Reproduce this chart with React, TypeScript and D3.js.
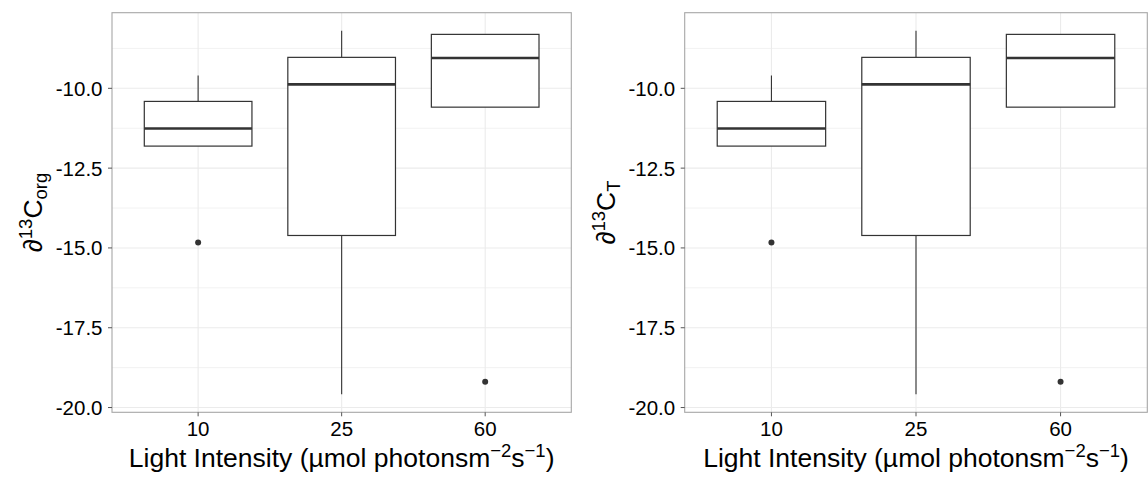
import React from "react";
import * as d3 from "d3";

// ---- data ----
const lightLevels = ["10", "25", "60"];

const orgLower = [-11.81, -19.58, -10.59];
const orgQ1 = [-11.81, -14.61, -10.59];
const orgMedian = [-11.26, -9.875, -9.05];
const orgQ3 = [-10.41, -9.03, -8.31];
const orgUpper = [-9.6, -8.2, -8.31];
const orgOutliers = [[-14.83], [], [-19.19]];

const totLower = [-11.81, -19.58, -10.59];
const totQ1 = [-11.81, -14.61, -10.59];
const totMedian = [-11.26, -9.875, -9.05];
const totQ3 = [-10.41, -9.03, -8.31];
const totUpper = [-9.6, -8.2, -8.31];
const totOutliers = [[-14.83], [], [-19.19]];

const yTicks = [-20, -17.5, -15, -12.5, -10];
const yTickLabels = ["-20.0", "-17.5", "-15.0", "-12.5", "-10.0"];
const yMinor = [-18.75, -16.25, -13.75, -11.25, -8.75];

const W = 1148;
const H = 479;
const FONT = "'Liberation Sans', Arial, sans-serif";

type PanelProps = {
  x0: number;
  x1: number;
  lower: number[];
  q1: number[];
  median: number[];
  q3: number[];
  upper: number[];
  outliers: number[][];
  ySub: string;
};

const y0 = 12.7;
const y1 = 412.3;

function Panel({ x0, x1, lower, q1, median, q3, upper, outliers, ySub }: PanelProps) {
  const all = [...lower, ...upper, ...outliers.flat()];
  const lo = d3.min(all) as number;
  const hi = d3.max(all) as number;
  const pad = (hi - lo) * 0.05;
  const y = d3.scaleLinear().domain([lo - pad, hi + pad]).range([y1, y0]);
  const x = d3.scalePoint<string>().domain(lightLevels).range([x0, x1]).padding(0.6);
  const step = x.step();
  const bw = step * 0.75;
  const dark = "#333333";
  const cx = (x0 + x1) / 2;
  const cy = (y0 + y1) / 2;

  return (
    <g>
      <rect x={x0} y={y0} width={x1 - x0} height={y1 - y0} fill="#ffffff" />
      {yMinor.map((v) => (
        <line key={"mn" + v} x1={x0} x2={x1} y1={y(v)} y2={y(v)} stroke="#f2f2f2" strokeWidth={1} />
      ))}
      {yTicks.map((v) => (
        <line key={"mj" + v} x1={x0} x2={x1} y1={y(v)} y2={y(v)} stroke="#ebebeb" strokeWidth={1.1} />
      ))}
      {lightLevels.map((c) => (
        <line key={"gx" + c} x1={x(c)} x2={x(c)} y1={y0} y2={y1} stroke="#ebebeb" strokeWidth={1.1} />
      ))}
      {lightLevels.map((c, i) => {
        const px = x(c) as number;
        return (
          <g key={"box" + c}>
            <line x1={px} x2={px} y1={y(upper[i])} y2={y(q3[i])} stroke={dark} strokeWidth={1.1} />
            <line x1={px} x2={px} y1={y(q1[i])} y2={y(lower[i])} stroke={dark} strokeWidth={1.1} />
            <rect
              x={px - bw / 2}
              y={y(q3[i])}
              width={bw}
              height={y(q1[i]) - y(q3[i])}
              fill="#ffffff"
              stroke={dark}
              strokeWidth={1.2}
            />
            <line x1={px - bw / 2} x2={px + bw / 2} y1={y(median[i])} y2={y(median[i])} stroke={dark} strokeWidth={2.6} />
            {outliers[i].map((o, k) => (
              <circle key={k} cx={px} cy={y(o)} r={3} fill={dark} />
            ))}
          </g>
        );
      })}
      <rect x={x0} y={y0} width={x1 - x0} height={y1 - y0} fill="none" stroke="#a6a6a6" strokeWidth={1.1} />
      {/* y axis */}
      {yTicks.map((v, i) => (
        <g key={"yt" + v}>
          <line x1={x0 - 4} x2={x0} y1={y(v)} y2={y(v)} stroke="#555" strokeWidth={1} />
          <text x={x0 - 9.5} y={y(v)} dy="0.36em" textAnchor="end" fontSize={20.5} fontFamily={FONT} fill="#000">
            {yTickLabels[i]}
          </text>
        </g>
      ))}
      {/* x axis */}
      {lightLevels.map((c) => (
        <g key={"xt" + c}>
          <line x1={x(c)} x2={x(c)} y1={y1} y2={y1 + 4} stroke="#555" strokeWidth={1} />
          <text x={x(c)} y={435.5} textAnchor="middle" fontSize={20.5} fontFamily={FONT} fill="#000">
            {c}
          </text>
        </g>
      ))}
      <text x={cx} y={467} textAnchor="middle" fontSize={26.5} fontFamily={FONT} fill="#000">
        Light Intensity (µmol photonsm
        <tspan fontSize={18.5} dy={-10}>−2</tspan>
        <tspan dy={10}>s</tspan>
        <tspan fontSize={18.5} dy={-10}>−1</tspan>
        <tspan dy={10}>)</tspan>
      </text>
      <text
        transform={`translate(${x0 - 70},${cy}) rotate(-90)`}
        textAnchor="middle"
        fontSize={26.5}
        fontFamily={FONT}
        fill="#000"
      >
        ∂<tspan fontSize={18.5} dy={-10}>13</tspan>
        <tspan dy={10}>C</tspan>
        <tspan fontSize={18.5} dy={5}>{ySub}</tspan>
      </text>
    </g>
  );
}

export default function App() {
  return (
    <svg
      width={W}
      height={H}
      style={{ position: "absolute", left: 0, top: 0, background: "#fff" }}
      xmlns="http://www.w3.org/2000/svg"
    >
      <rect x={0} y={0} width={W} height={H} fill="#ffffff" />
      <Panel
        x0={112}
        x1={571.3}
        lower={orgLower}
        q1={orgQ1}
        median={orgMedian}
        q3={orgQ3}
        upper={orgUpper}
        outliers={orgOutliers}
        ySub="org"
      />
      <Panel
        x0={684.7}
        x1={1147.3}
        lower={totLower}
        q1={totQ1}
        median={totMedian}
        q3={totQ3}
        upper={totUpper}
        outliers={totOutliers}
        ySub="T"
      />
    </svg>
  );
}
